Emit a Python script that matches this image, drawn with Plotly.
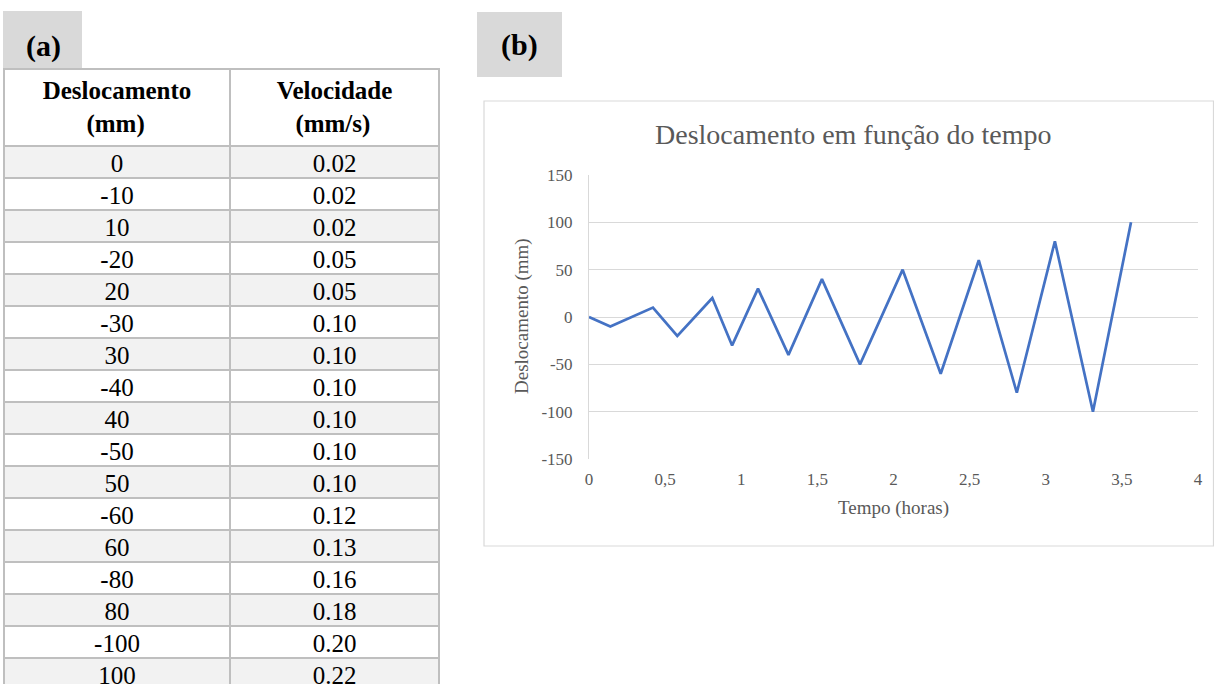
import plotly.graph_objects as go

# ---- data ----
deslocamento = [0, -10, 10, -20, 20, -30, 30, -40, 40, -50, 50, -60, 60, -80, 80, -100, 100]
velocidade = ["0.02", "0.02", "0.02", "0.05", "0.05", "0.10", "0.10", "0.10", "0.10",
              "0.10", "0.10", "0.12", "0.13", "0.16", "0.18", "0.20", "0.22"]
tempo_horas = [0, 0.14, 0.42, 0.58, 0.81, 0.94, 1.11, 1.31, 1.53, 1.78,
               2.06, 2.31, 2.56, 2.81, 3.06, 3.31, 3.56]
NB = "\u00a0"
header_labels = ["<b>Deslocamento<br>" + NB * 7 + "(mm)</b>",
                 "<b>Velocidade<br>" + NB * 3 + "(mm/s)</b>"]
x_ticks = [0, 0.5, 1, 1.5, 2, 2.5, 3, 3.5, 4]
x_ticktext = ["0", "0,5", "1", "1,5", "2", "2,5", "3", "3,5", "4"]
y_ticks = [-150, -100, -50, 0, 50, 100, 150]
y_ticktext = ["-150", "-100", "-50", "0", "50", "100", "150"]

W, H = 1214, 684
def px(x): return x / W
def py(y): return 1 - y / H

SERIF = "Liberation Serif, serif"
GREY_TXT = "#595959"

row_fill = ["#f2f2f2" if i % 2 == 0 else "#ffffff" for i in range(len(deslocamento))]

fig = go.Figure()

fig.add_trace(go.Table(
    domain=dict(x=[px(4), px(439)], y=[0, py(69)]),
    columnwidth=[226, 209],
    header=dict(
        values=header_labels,
        fill_color="white",
        line=dict(color="#bfbfbf", width=2),
        font=dict(family=SERIF, size=25, color="black"),
        align="center",
        height=63,
    ),
    cells=dict(
        values=[[str(v) for v in deslocamento], velocidade],
        fill_color=[row_fill, row_fill],
        line=dict(color="#bfbfbf", width=2),
        font=dict(family=SERIF, size=25, color="black"),
        align="center",
        height=32,
    ),
))

fig.add_trace(go.Scatter(
    x=tempo_horas, y=deslocamento, mode="lines",
    line=dict(color="#4472C4", width=2.7),
    showlegend=False, hoverinfo="x+y",
))

fig.update_layout(
    width=W, height=H,
    margin=dict(l=0, r=0, t=0, b=0, autoexpand=False),
    paper_bgcolor="white", plot_bgcolor="white",
    separators=",.",
    showlegend=False,
    xaxis=dict(domain=[px(589), px(1198)], range=[0, 4], tickvals=x_ticks, ticktext=x_ticktext,
               showgrid=False, zeroline=False, showline=False, automargin=False,
               ticklabelstandoff=8,
               tickfont=dict(family=SERIF, size=17, color=GREY_TXT)),
    yaxis=dict(domain=[py(459), py(175)], range=[-150, 150], tickvals=y_ticks, ticktext=y_ticktext,
               showgrid=True, gridcolor="#d9d9d9", gridwidth=1, zeroline=False,
               showline=True, linecolor="#d9d9d9", linewidth=1, automargin=False,
               ticklabelstandoff=12,
               tickfont=dict(family=SERIF, size=17, color=GREY_TXT)),
    shapes=[
        dict(type="rect", xref="paper", yref="paper", x0=px(3), x1=px(82), y0=py(68), y1=py(11),
             fillcolor="#d9d9d9", line=dict(width=0), layer="below"),
        dict(type="rect", xref="paper", yref="paper", x0=px(477), x1=px(562), y0=py(77), y1=py(12),
             fillcolor="#d9d9d9", line=dict(width=0), layer="below"),
        dict(type="rect", xref="paper", yref="paper", x0=px(484), x1=px(1213.5), y0=py(546), y1=py(101),
             fillcolor="rgba(0,0,0,0)", line=dict(color="#d9d9d9", width=1.2), layer="below"),
    ],
    annotations=[
        dict(text="<b>(a)</b>", x=px(43), y=py(46), xref="paper", yref="paper", showarrow=False,
             xanchor="center", yanchor="middle",
             font=dict(family=SERIF, size=30, color="black")),
        dict(text="<b>(b)</b>", x=px(519), y=py(45), xref="paper", yref="paper", showarrow=False,
             xanchor="center", yanchor="middle",
             font=dict(family=SERIF, size=30, color="black")),
        dict(text="Deslocamento em função do tempo", x=px(853), y=py(134), xref="paper", yref="paper",
             showarrow=False, xanchor="center", yanchor="middle",
             font=dict(family=SERIF, size=28, color=GREY_TXT)),
        dict(text="Tempo (horas)", x=px(893), y=py(508), xref="paper", yref="paper",
             showarrow=False, xanchor="center", yanchor="middle",
             font=dict(family=SERIF, size=19, color=GREY_TXT)),
        dict(text="Deslocamento (mm)", x=px(522), y=py(316), xref="paper", yref="paper",
             showarrow=False, textangle=-90, xanchor="center", yanchor="middle",
             font=dict(family=SERIF, size=19, color=GREY_TXT)),
    ],
)

fig.write_html(
    "out.html",
    config={"displayModeBar": False},
    post_script="document.body.style.margin='0';document.documentElement.style.overflow='hidden';",
)
